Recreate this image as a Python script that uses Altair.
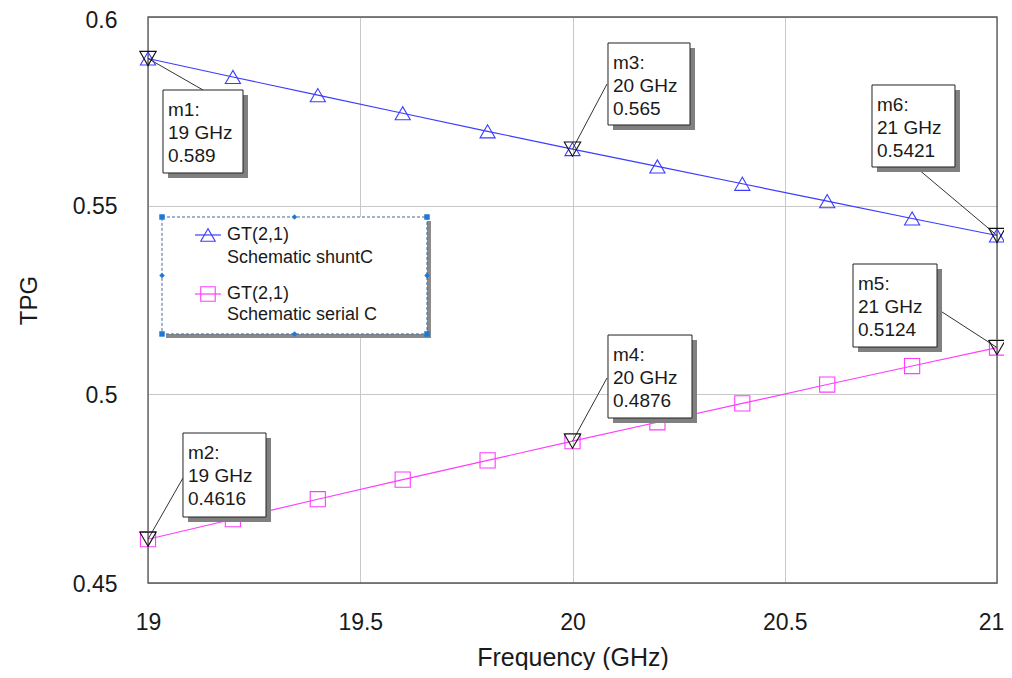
import altair as alt
import pandas as pd

# ---------------- data ----------------
freq_ghz = [19.0, 19.2, 19.4, 19.6, 19.8, 20.0, 20.2, 20.4, 20.6, 20.8, 21.0]
tpg_shunt = [0.589, 0.5841, 0.5793, 0.5745, 0.5697, 0.565, 0.5604, 0.5558, 0.5512, 0.5466, 0.5421]
tpg_serial = [0.4616, 0.4669, 0.4722, 0.4774, 0.4825, 0.4876, 0.4926, 0.4976, 0.5026, 0.5075, 0.5124]
series_names = ["shuntC", "serial C"]
series_colors = ["#3c3cff", "#ff3cff"]
series_shapes = ["triangle-up", "square"]
legend_lines = [["GT(2,1)", "Schematic shuntC"], ["GT(2,1)", "Schematic serial C"]]

x_ticks = [19, 19.5, 20, 20.5, 21]
y_ticks = [0.45, 0.5, 0.55, 0.6]

marker_names = ["m1", "m2", "m3", "m4", "m5", "m6"]
marker_series = ["shuntC", "serial C", "shuntC", "serial C", "serial C", "shuntC"]
marker_index = [0, 0, 5, 5, 10, 10]

# annotation layout (data units)
box_x1 = [19.0353, 19.0824, 20.0836, 20.0836, 20.6608, 20.7055]
box_x2 = [19.2238, 19.2780, 20.2768, 20.2815, 20.8587, 20.9010]
box_y1 = [0.58065, 0.48975, 0.59311, 0.51572, 0.53454, 0.58198]
box_y2 = [0.55866, 0.46749, 0.57138, 0.49373, 0.51254, 0.56025]
conn_x = [19.1296, 19.0824, 20.0813, 20.0813, 20.8633, 20.8139]
conn_y = [0.58065, 0.47783, 0.58224, 0.50433, 0.52235, 0.55972]

legend_box = [19.0330, 19.6572, 0.54700, 0.51600]  # x1, x2, y1, y2
legend_row_y = [0.54223, 0.52659]
legend_text_y = [[0.54223, 0.53613], [0.52659, 0.52102]]
legend_line_x = [19.1107, 19.1720]
legend_sym_x = 19.1413
legend_text_x = 19.1861

FONT = "Liberation Sans"
TXT = "#1a1a1a"

# ---------------- tables ----------------
series_vals = {"shuntC": tpg_shunt, "serial C": tpg_serial}
df_lines = pd.DataFrame(
    [{"x": f, "y": v, "s": s} for s in series_names for f, v in zip(freq_ghz, series_vals[s])]
)

mk_rows = []
for i, n in enumerate(marker_names):
    f = freq_ghz[marker_index[i]]
    v = series_vals[marker_series[i]][marker_index[i]]
    mk_rows.append({
        "x": f, "y": v, "name": n,
        "label": f"{n}:\n{f:g} GHz\n{v:g}",
        "bx1": box_x1[i], "bx2": box_x2[i], "by1": box_y1[i], "by2": box_y2[i],
        "cx": conn_x[i], "cy": conn_y[i],
    })
df_mk = pd.DataFrame(mk_rows)

df_frame = pd.DataFrame([{"x": x_ticks[0], "x2": x_ticks[-1], "y": y_ticks[0], "y2": y_ticks[-1]}])

lx1, lx2, ly1, ly2 = legend_box
df_leg_box = pd.DataFrame([{"x": lx1, "x2": lx2, "y": ly1, "y2": ly2}])
mx, my = (lx1 + lx2) / 2, (ly1 + ly2) / 2
df_handles = pd.DataFrame(
    [{"x": a, "y": b, "shape": "square"} for a in (lx1, lx2) for b in (ly1, ly2)]
    + [{"x": mx, "y": ly1, "shape": "diamond"}, {"x": mx, "y": ly2, "shape": "diamond"},
       {"x": lx1, "y": my, "shape": "diamond"}, {"x": lx2, "y": my, "shape": "diamond"}]
)
df_leg_line = pd.DataFrame([
    {"x": legend_line_x[0], "x2": legend_line_x[1], "y": legend_row_y[i], "s": s,
     "sx": legend_sym_x}
    for i, s in enumerate(series_names)
])
df_leg_text = pd.DataFrame([
    {"x": legend_text_x, "y": legend_text_y[i][j], "t": legend_lines[i][j]}
    for i in range(2) for j in range(2)
])

# ---------------- encodings ----------------
xscale = alt.Scale(domain=[x_ticks[0], x_ticks[-1]], nice=False, zero=False)
yscale = alt.Scale(domain=[y_ticks[0], y_ticks[-1]], nice=False, zero=False)

xaxis = alt.Axis(
    values=x_ticks, format="~g", ticks=False, tickSize=0, domain=False,
    grid=True, gridColor="#c8c8c8", gridWidth=1,
    labelFont=FONT, labelFontSize=23, labelColor=TXT, labelPadding=28,
    labelOffset={"condition": {"test": f"datum.value >= {x_ticks[-1]}", "value": -6}, "value": 0},
    labelFlush=False, labelOverlap=False, labelBound=False,
    title="Frequency (GHz)", titleFont=FONT, titleFontSize=25, titleFontWeight="normal",
    titleColor=TXT, titleX=424.5, titleY=82, titleBaseline="alphabetic", titleAlign="center",
)
yaxis = alt.Axis(
    values=y_ticks, format="~g", ticks=False, tickSize=0, domain=False,
    grid=True, gridColor="#c8c8c8", gridWidth=1,
    labelFont=FONT, labelFontSize=23, labelColor=TXT, labelPadding=31,
    labelOffset={"condition": {"test": f"datum.value >= {y_ticks[-1]}", "value": 3}, "value": 1},
    labelFlush=False, labelOverlap=False, labelBound=False,
    title="TPG", titleFont=FONT, titleFontSize=24, titleFontWeight="normal",
    titleColor=TXT, titleX=-119, titleY=283, titleBaseline="middle", titleAlign="center",
    titleAngle=270,
)


def X(field):
    return alt.X(f"{field}:Q", scale=xscale, axis=xaxis, title="Frequency (GHz)")


def Y(field):
    return alt.Y(f"{field}:Q", scale=yscale, axis=yaxis, title="TPG")


color = alt.Color("s:N", scale=alt.Scale(domain=series_names, range=series_colors), legend=None)
shape = alt.Shape("s:N", scale=alt.Scale(domain=series_names, range=series_shapes), legend=None)

# ---------------- layers ----------------
frame = alt.Chart(df_frame).mark_rect(fillOpacity=0, stroke="#555555", strokeWidth=1.3).encode(
    x=X("x"), x2="x2", y=Y("y"), y2="y2")

lines = alt.Chart(df_lines).mark_line(strokeWidth=1.2).encode(
    x=X("x"), y=Y("y"), color=color, detail="s:N")

points = alt.Chart(df_lines).mark_point(filled=False, size=230, strokeWidth=1.1, opacity=1).encode(
    x=X("x"), y=Y("y"), color=color, shape=shape)

connectors = alt.Chart(df_mk).mark_rule(color="#333333", strokeWidth=1).encode(
    x=X("x"), y=Y("y"), x2="cx", y2="cy")

mk_tri = alt.Chart(df_mk).mark_point(shape="triangle-down", filled=False, size=270,
                                     color="#111111", strokeWidth=1.1, opacity=1).encode(
    x=X("x"), y=Y("y"))

leg_shadow = alt.Chart(df_leg_box).mark_rect(fill="#8a8a8a", xOffset=4, x2Offset=4,
                                             yOffset=4, y2Offset=4).encode(
    x=X("x"), x2="x2", y=Y("y"), y2="y2")
leg_box = alt.Chart(df_leg_box).mark_rect(fill="white", stroke="#3d6e9e", strokeDash=[3, 2],
                                          strokeWidth=1).encode(
    x=X("x"), x2="x2", y=Y("y"), y2="y2")
leg_handles = alt.Chart(df_handles).mark_point(filled=True, size=30, color="#1f78d4", opacity=1).encode(
    x=X("x"), y=Y("y"), shape=alt.Shape("shape:N", scale=None))
leg_lines = alt.Chart(df_leg_line).mark_rule(strokeWidth=1.2).encode(
    x=X("x"), x2="x2", y=Y("y"), color=color)
leg_syms = alt.Chart(df_leg_line).mark_point(filled=False, size=210, strokeWidth=1.1, opacity=1).encode(
    x=X("sx"), y=Y("y"), color=color, shape=shape)
leg_text = alt.Chart(df_leg_text).mark_text(font=FONT, fontSize=18, color=TXT, align="left",
                                            baseline="middle").encode(
    x=X("x"), y=Y("y"), text="t:N")

box_shadow = alt.Chart(df_mk).mark_rect(fill="#808080", xOffset=5, x2Offset=5,
                                        yOffset=5, y2Offset=5).encode(
    x=X("bx1"), x2="bx2", y=Y("by1"), y2="by2")
boxes = alt.Chart(df_mk).mark_rect(fill="white", stroke="#222222", strokeWidth=1).encode(
    x=X("bx1"), x2="bx2", y=Y("by1"), y2="by2")
box_text = alt.Chart(df_mk).mark_text(font=FONT, fontSize=19, color=TXT, align="left",
                                      baseline="top", lineBreak="\n", lineHeight=23,
                                      dx=5, dy=11).encode(
    x=X("bx1"), y=Y("by1"), text="label:N")

chart = alt.layer(
    frame, lines, points, connectors, mk_tri,
    leg_shadow, leg_box, leg_handles, leg_lines, leg_syms, leg_text,
    box_shadow, boxes, box_text,
).properties(
    width=849, height=566,
    autosize=alt.AutoSizeParams(type="none"),
    padding={"left": 140, "top": 9, "right": 7, "bottom": 87},
    background="white",
).configure_view(stroke=None)

chart.save("out.html", embed_options={"renderer": "svg", "actions": False})
